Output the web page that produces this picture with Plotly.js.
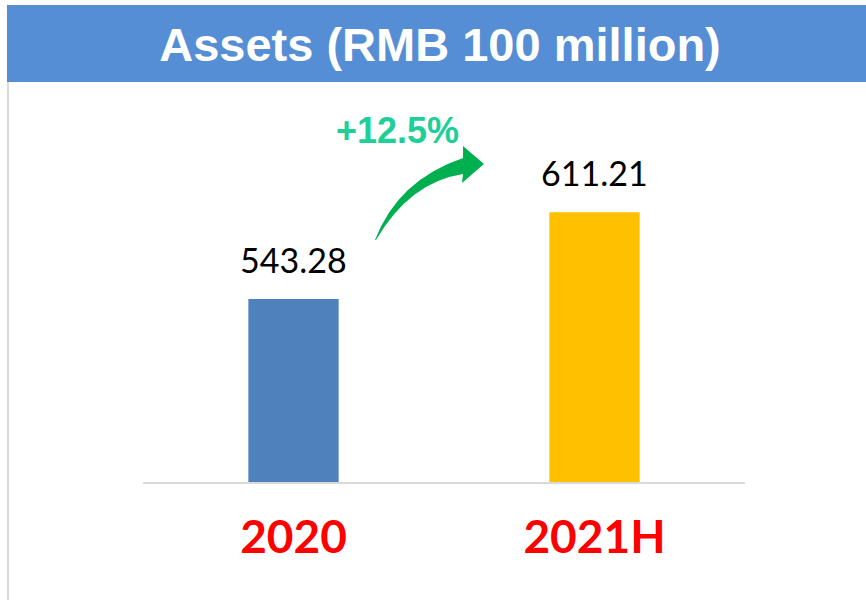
<!DOCTYPE html>
<html>
<head>
<meta charset="utf-8">
<script src="https://cdn.plot.ly/plotly-3.0.1.min.js"></script>
<style>html,body{margin:0;padding:0;background:#fff}#chart{width:866px;height:600px}</style>
</head>
<body>
<div id="chart"></div>
<script>
var categories = ['2020', '2021H'];
var values = [543.28, 611.21];
var valueLabels = ['543.28', '611.21'];
var barColors = ['#4F81BD', '#FFC000'];

var W = 866, H = 600;
var L = 143, R = 745, T = 99, B = 482;
function px(x){ return (x - L) / (R - L); }
function py(y){ return (B - y) / (B - T); }

var growth = ((values[1] / values[0] - 1) * 100).toFixed(1);

var arrowPts = [
  ['M', 375, 240], ['Q', 398, 180, 463, 158], ['L', 463, 146], ['L', 484, 164],
  ['L', 462, 183], ['L', 463, 174], ['Q', 410, 182, 376, 240]
];
var arrowPath = arrowPts.map(function(p){
  var s = p[0];
  for (var i = 1; i < p.length; i += 2) s += ' ' + px(p[i]).toFixed(4) + ',' + py(p[i+1]).toFixed(4);
  return s;
}).join(' ') + ' Z';

var trace = {
  type: 'bar',
  x: categories,
  y: values,
  marker: {color: barColors},
  hoverinfo: 'none'
};

var annotations = categories.map(function(c, i){
  return {
    x: i, y: values[i], xref: 'x', yref: 'y',
    text: valueLabels[i], showarrow: false,
    yanchor: 'bottom', yshift: 17,
    font: {family: 'Lato, sans-serif', size: 34, color: '#000000'}
  };
});
annotations.push({
  x: px(397), y: py(130), xref: 'paper', yref: 'paper',
  text: '<b>+' + growth + '%</b>', showarrow: false,
  xanchor: 'center', yanchor: 'middle',
  font: {family: 'Liberation Sans, Arial, sans-serif', size: 36, color: '#20CF97'}
});

var layout = {
  width: W, height: H,
  margin: {l: L, r: W - R, t: T, b: H - B, pad: 0},
  paper_bgcolor: '#ffffff', plot_bgcolor: '#ffffff',
  showlegend: false,
  bargap: 0.7,
  title: {
    text: '<b>Assets (RMB 100 million)</b>',
    x: 440 / W, xref: 'container', xanchor: 'center',
    y: 1 - 45 / H, yref: 'container', yanchor: 'middle',
    font: {family: 'Liberation Sans, Arial, sans-serif', size: 47, color: '#ffffff'}
  },
  xaxis: {
    type: 'category',
    range: [-0.5, 1.5],
    showgrid: false, zeroline: false,
    showline: true, linecolor: '#D9D9D9', linewidth: 2,
    ticks: 'outside', ticklen: 14, tickcolor: 'rgba(0,0,0,0)',
    tickfont: {family: 'Lato, sans-serif', size: 46, color: '#FF0000', weight: 'bold'},
    fixedrange: true
  },
  yaxis: {
    range: [400, 700],
    showgrid: false, zeroline: false, showline: false,
    showticklabels: false, ticks: '',
    fixedrange: true
  },
  shapes: [
    {type: 'rect', xref: 'paper', yref: 'paper', layer: 'below',
     x0: px(7), x1: px(866), y0: py(82), y1: py(5),
     fillcolor: '#558ED5', line: {width: 0}},
    {type: 'line', xref: 'paper', yref: 'paper',
     x0: px(8), x1: px(8), y0: py(82), y1: py(600),
     line: {color: '#D9D9D9', width: 2}},
    {type: 'path', xref: 'paper', yref: 'paper', path: arrowPath,
     fillcolor: '#00B050', line: {width: 0}}
  ],
  annotations: annotations
};

Plotly.newPlot('chart', [trace], layout, {displayModeBar: false, staticPlot: true});
</script>
</body>
</html>
